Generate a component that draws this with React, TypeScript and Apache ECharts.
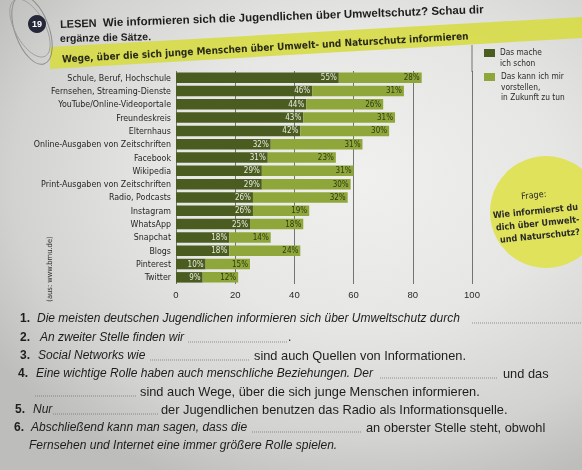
import React, { useEffect, useRef } from "react";
import * as echarts from "echarts";

const categories = [
  "Schule, Beruf, Hochschule",
  "Fernsehen, Streaming-Dienste",
  "YouTube/Online-Videoportale",
  "Freundeskreis",
  "Elternhaus",
  "Online-Ausgaben von Zeitschriften",
  "Facebook",
  "Wikipedia",
  "Print-Ausgaben von Zeitschriften",
  "Radio, Podcasts",
  "Instagram",
  "WhatsApp",
  "Snapchat",
  "Blogs",
  "Pinterest",
  "Twitter",
];
const doneValues = [55, 46, 44, 43, 42, 32, 31, 29, 29, 26, 26, 25, 18, 18, 10, 9];
const futureValues = [28, 31, 26, 31, 30, 31, 23, 31, 30, 32, 19, 18, 14, 24, 15, 12];
const xTickMin = 0;
const xTickMax = 100;
const xTickStep = 20;
const seriesNames = ["Das mache ich schon", "Das kann ich mir vorstellen, in Zukunft zu tun"];
const legendLines = [
  ["Das mache", "ich schon"],
  ["Das kann ich mir", "vorstellen,", "in Zukunft zu tun"],
];
const chartTitle = "Wege, über die sich junge Menschen über Umwelt- und Naturschutz informieren";
const sourceNote = "(aus: www.bmu.de)";
const bubbleLines = ["Wie informierst du", "dich über Umwelt-", "und Naturschutz?"];

const DARK = "#4b5c21";
const LIGHT = "#8fa63b";
const NARROW = "'Liberation Sans Narrow', 'DejaVu Sans Condensed', 'Arial Narrow', 'Liberation Sans', sans-serif";
const SANS = "'Liberation Sans', Arial, Helvetica, sans-serif";
const INK = "#1d1d1d";

type Seg = { t: string; x: number; b?: boolean; i?: boolean };
type Line = { y: number; segs: Seg[]; blanks: [number, number][]; tail?: { t: string; x: number } };

const questionLines: Line[] = [
  { y: 318, segs: [{ t: "1.", x: 20, b: true }, { t: "Die meisten deutschen Jugendlichen informieren sich über Umweltschutz durch", x: 37, i: true }], blanks: [[472, 582]] },
  { y: 337, segs: [{ t: "2.", x: 20, b: true }, { t: "An zweiter Stelle finden wir", x: 40, i: true }], blanks: [[188, 288]], tail: { t: ".", x: 288 } },
  { y: 355, segs: [{ t: "3.", x: 20, b: true }, { t: "Social Networks wie", x: 38, i: true }, { t: "sind auch Quellen von Informationen.", x: 254 }], blanks: [[150, 250]] },
  { y: 373, segs: [{ t: "4.", x: 18, b: true }, { t: "Eine wichtige Rolle haben auch menschliche Beziehungen. Der", x: 36, i: true }, { t: "und das", x: 503 }], blanks: [[380, 498]] },
  { y: 391, segs: [{ t: "sind auch Wege, über die sich junge Menschen informieren.", x: 140 }], blanks: [[35, 136]] },
  { y: 409, segs: [{ t: "5.", x: 15, b: true }, { t: "Nur", x: 33, i: true }, { t: "der Jugendlichen benutzen das Radio als Informationsquelle.", x: 161 }], blanks: [[53, 158]] },
  { y: 427, segs: [{ t: "6.", x: 14, b: true }, { t: "Abschließend kann man sagen, dass die", x: 31, i: true }, { t: "an oberster Stelle steht, obwohl", x: 366 }], blanks: [[252, 362]] },
  { y: 445, segs: [{ t: "Fernsehen und Internet eine immer größere Rolle spielen.", x: 29, i: true }], blanks: [] },
];

function buildQuestions(): any[] {
  const out: any[] = [];
  questionLines.forEach((ln) => {
    ln.segs.forEach((s) => {
      out.push({
        type: "text",
        x: s.x,
        y: ln.y,
        style: {
          text: s.t,
          fill: INK,
          fontFamily: SANS,
          fontSize: s.b ? 12 : s.i ? 12 : 12.8,
          fontWeight: s.b ? "bold" : "normal",
          fontStyle: s.i ? "italic" : "normal",
          verticalAlign: "middle",
        },
      });
    });
    ln.blanks.forEach(([a, b]) => {
      out.push({
        type: "line",
        shape: { x1: a, y1: ln.y + 5, x2: b, y2: ln.y + 5 },
        style: { stroke: "#6a6a6a", lineWidth: 0.7, lineDash: [1, 1] },
      });
    });
    if (ln.tail) {
      out.push({
        type: "text",
        x: ln.tail.x,
        y: ln.y,
        style: { text: ln.tail.t, fill: INK, fontFamily: SANS, fontSize: 12, verticalAlign: "middle" },
      });
    }
  });
  return out;
}

export default function App() {
  const ref = useRef<HTMLDivElement>(null);
  useEffect(() => {
    if (!ref.current) return;
    const chart = echarts.init(ref.current, null, { renderer: "svg" });
    const graphics: any[] = [
      // pencil loop
      {
        type: "ellipse",
        shape: { cx: 32, cy: 30, rx: 17, ry: 36 },
        rotation: 0.35,
        originX: 32,
        originY: 30,
        style: { fill: "none", stroke: "#8c8c8c", lineWidth: 1 },
      },
      {
        type: "ellipse",
        shape: { cx: 30, cy: 28, rx: 15, ry: 32 },
        rotation: 0.5,
        originX: 30,
        originY: 28,
        style: { fill: "none", stroke: "#9a9a9a", lineWidth: 0.8 },
      },
      // exercise number
      { type: "circle", shape: { cx: 37, cy: 24, r: 9 }, style: { fill: "#26283a" } },
      {
        type: "text",
        x: 37,
        y: 24,
        style: { text: "19", fill: "#ffffff", fontFamily: SANS, fontWeight: "bold", fontSize: 9, align: "center", verticalAlign: "middle" },
      },
      {
        type: "group",
        x: 60,
        y: 24,
        rotation: 0.035,
        children: [
          {
            type: "text",
            x: 0,
            y: 0,
            style: { text: "LESEN", fill: INK, fontFamily: SANS, fontWeight: "bold", fontSize: 11, verticalAlign: "middle" },
          },
          {
            type: "text",
            x: 43,
            y: 0,
            style: {
              text: "Wie informieren sich die Jugendlichen über Umweltschutz? Schau dir",
              fill: INK,
              fontFamily: SANS,
              fontWeight: "bold",
              fontSize: 11.5,
              verticalAlign: "middle",
            },
          },
        ],
      },
      {
        type: "text",
        x: 60,
        y: 38,
        rotation: 0.02,
        style: { text: "ergänze die Sätze.", fill: INK, fontFamily: SANS, fontWeight: "bold", fontSize: 10.5, verticalAlign: "middle" },
      },
      // yellow title band
      {
        type: "polygon",
        shape: { points: [[50, 47], [582, 17], [582, 38], [50, 69]] },
        style: { fill: "#d6db45", opacity: 0.9 },
        z: -1,
      },
      {
        type: "text",
        x: 62,
        y: 59,
        rotation: 0.057,
        style: {
          text: chartTitle,
          fill: "#2a2a18",
          fontFamily: NARROW,
          fontWeight: "bold",
          fontSize: 10,
          verticalAlign: "middle",
        },
      },
      // extension of the 100 gridline / separator
      { type: "line", shape: { x1: 472, y1: 45, x2: 472, y2: 72 }, style: { stroke: "#555", lineWidth: 0.8 } },
      // legend
      { type: "rect", shape: { x: 484, y: 49, width: 11, height: 8 }, style: { fill: DARK } },
      ...legendLines[0].map((t, k) => ({
        type: "text",
        x: 500,
        y: 52 + k * 10.5,
        style: { text: t, fill: "#2a2a2a", fontFamily: NARROW, fontSize: 8.3, verticalAlign: "middle" },
      })),
      { type: "rect", shape: { x: 484, y: 73, width: 11, height: 8 }, style: { fill: LIGHT } },
      ...legendLines[1].map((t, k) => ({
        type: "text",
        x: 501,
        y: 76 + k * 10.5,
        style: { text: t, fill: "#2a2a2a", fontFamily: NARROW, fontSize: 8.3, verticalAlign: "middle" },
      })),
      // question bubble
      { type: "circle", shape: { cx: 546, cy: 212, r: 56 }, style: { fill: "#dfe25a" }, z: -1 },
      {
        type: "group",
        x: 536,
        y: 217,
        rotation: 0.1,
        children: [
          { type: "text", x: 0, y: -22, style: { text: "Frage:", fill: "#2a2a2a", fontFamily: NARROW, fontSize: 9, align: "center", verticalAlign: "middle" } },
          ...bubbleLines.map((t, k) => ({
            type: "text",
            x: k,
            y: -6 + k * 12.5,
            style: { text: t, fill: "#2a2a2a", fontFamily: NARROW, fontWeight: "bold", fontSize: 9, align: "center", verticalAlign: "middle" },
          })),
        ],
      },
      // source note
      {
        type: "text",
        x: 49,
        y: 269,
        rotation: Math.PI / 2,
        style: { text: sourceNote, fill: "#333", fontFamily: NARROW, fontSize: 7.5, align: "center", verticalAlign: "middle" },
      },
      ...buildQuestions(),
    ];

    chart.setOption({
      animation: false,
      backgroundColor: "transparent",
      grid: { left: 176, right: 110, top: 71, bottom: 186, containLabel: false },
      xAxis: {
        type: "value",
        min: xTickMin,
        max: xTickMax,
        interval: xTickStep,
        axisLine: { show: false },
        axisTick: { show: false },
        axisLabel: { color: "#2a2a2a", fontSize: 9.5, fontFamily: SANS, margin: 5 },
        splitLine: { show: true, lineStyle: { color: "#555", width: 0.8 } },
      },
      yAxis: {
        type: "category",
        data: categories,
        inverse: true,
        axisLine: { show: false },
        axisTick: { show: false },
        axisLabel: { color: "#262626", fontSize: 8.8, fontFamily: NARROW, margin: 5 },
      },
      series: [
        {
          name: seriesNames[0],
          type: "bar",
          stack: "total",
          data: doneValues,
          barWidth: 10.5,
          itemStyle: { color: DARK },
          label: {
            show: true,
            position: "insideRight",
            distance: 2,
            formatter: "{c}%",
            color: "#e8eadb",
            fontSize: 8,
            fontFamily: NARROW,
          },
        },
        {
          name: seriesNames[1],
          type: "bar",
          stack: "total",
          data: futureValues,
          barWidth: 10.5,
          itemStyle: { color: LIGHT },
          label: {
            show: true,
            position: "insideRight",
            distance: 2,
            formatter: "{c}%",
            color: "#2f3b0f",
            fontSize: 8,
            fontFamily: NARROW,
          },
        },
      ],
      graphic: graphics,
    });
    return () => chart.dispose();
  }, []);

  return (
    <div
      style={{
        position: "fixed",
        left: 0,
        top: 0,
        width: 582,
        height: 470,
        background:
          "radial-gradient(ellipse 75% 70% at 62% 38%, #f0f0ee 0%, #e6e6e4 45%, #d2d2d0 80%, #bdbdbb 100%)",
      }}
    >
      <div ref={ref} style={{ width: 582, height: 470 }} />
    </div>
  );
}
